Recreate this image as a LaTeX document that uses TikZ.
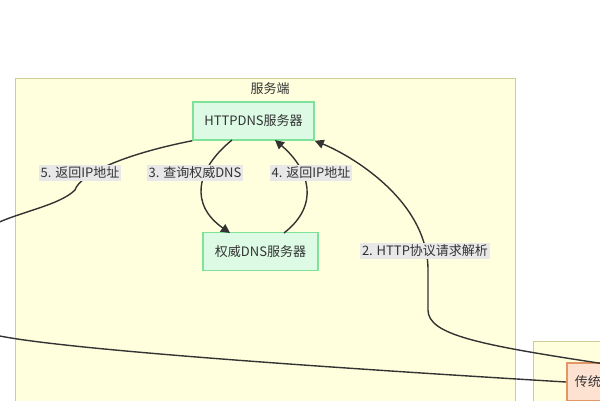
\documentclass[tikz,border=0pt]{standalone}
\usepackage{fontspec}
\setmainfont{Noto Sans CJK SC}
\usetikzlibrary{arrows.meta,positioning,calc}
\definecolor{clusterfill}{RGB}{255,255,222}
\definecolor{clusterdraw}{RGB}{205,205,150}
\definecolor{srvfill}{RGB}{220,250,228}
\definecolor{srvdraw}{RGB}{126,226,154}
\definecolor{oldfill}{RGB}{253,226,210}
\definecolor{olddraw}{RGB}{226,150,100}
\definecolor{lblfill}{RGB}{232,232,232}
\definecolor{ink}{RGB}{51,51,51}

\begin{document}
\begin{tikzpicture}[x=1pt, y=-1pt, font=\fontsize{13}{15}\selectfont, text=ink,
  srvbox/.style={draw=srvdraw, fill=srvfill, line width=1.5pt,
    minimum height=38pt, minimum width=115pt, inner xsep=6pt},
  oldbox/.style={draw=olddraw, fill=oldfill, line width=1.5pt,
    minimum height=38pt, inner xsep=8pt, anchor=west},
  lbl/.style={fill=lblfill, inner sep=2pt},
  link/.style={draw=ink, line width=1.4pt},
  arr/.style={link, -{Triangle[length=9pt,width=9pt]}}]
  \useasboundingbox (0,0) rectangle (600,400);
  % clusters
  \draw[clusterdraw, fill=clusterfill] (15,78) rectangle (515,410);
  \draw[clusterdraw, fill=clusterfill] (533,341) rectangle (610,410);
  \node (title) at (270,89) {服务端};

  \node[srvbox, minimum width=121pt] (http) at (253.5,121) {HTTPDNS服务器};
  \node[srvbox] (auth) at (260.5,251.5) {权威DNS服务器};
  \node[oldbox] (old) at (566,382) {传统DNS};

  \coordinate (lefttop) at (-5,224);
  \coordinate (leftlow) at (-5,335);
  \coordinate (rightin) at (605,364);

  % connectors
  \draw[link] (http.south west) .. controls (120,155) and (80,175) .. (75,190)
    .. controls (60,205) and (20,212) .. (lefttop);
  \node[lbl] at (80,173) {5. 返回IP地址};
  \draw[arr] (232,140) .. controls (195,170) and (190,205) .. (230,233);
  \node[lbl] at (195,173) {3. 查询权威DNS};
  \draw[arr] (284,233) .. controls (320,205) and (310,170) .. (275,140);
  \node[lbl] at (311,173) {4. 返回IP地址};
  \draw[arr] (rightin) .. controls (480,345) and (428,335) .. (428,310)
    -- (428,270) .. controls (428,200) and (350,155) .. (http.south east);
  \node[lbl] at (425,251) {2. HTTP协议请求解析};
  \draw[link] (leftlow) .. controls (40,345) and (200,360) .. (old.west);
\end{tikzpicture}
\end{document}
